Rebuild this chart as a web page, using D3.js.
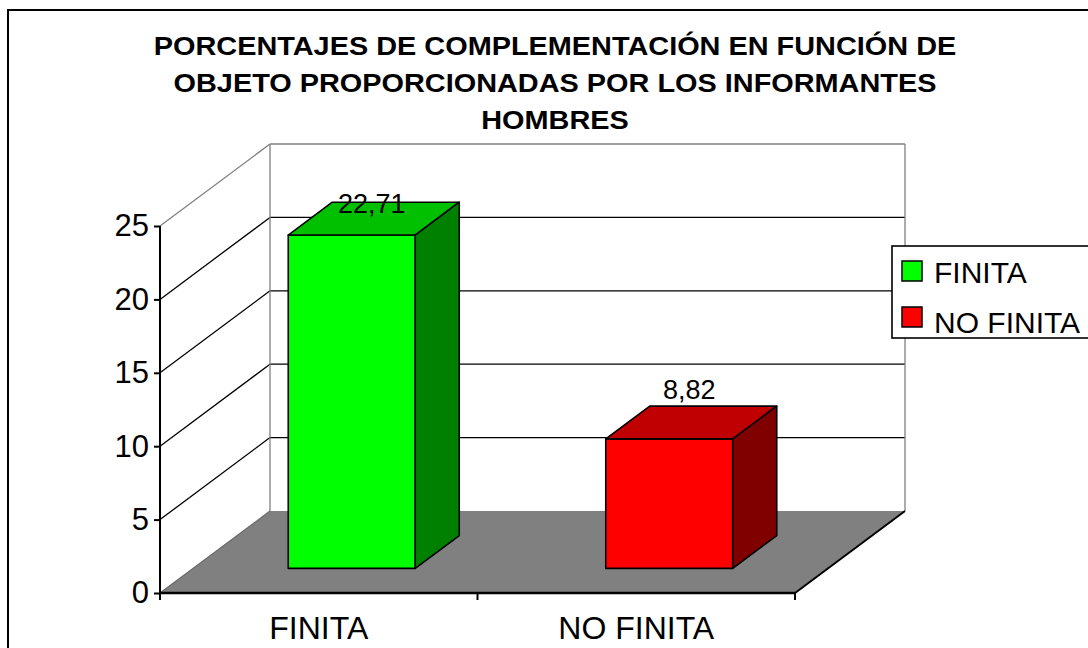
<!DOCTYPE html>
<html>
<head>
<meta charset="utf-8">
<script src="https://cdn.jsdelivr.net/npm/d3@7"></script>
<style>
  html, body { margin: 0; padding: 0; background: #fff; }
  svg { display: block; font-family: "Liberation Sans", Arial, sans-serif; }
</style>
</head>
<body>
<svg id="chart" width="1088" height="648"></svg>
<script>
// Chart data
const categories = ["FINITA", "NO FINITA"];
const values = [22.71, 8.82];
const valueLabels = ["22,71", "8,82"];
const yTicks = [0, 5, 10, 15, 20, 25];
const titleLines = [
  "PORCENTAJES DE COMPLEMENTACIÓN EN FUNCIÓN DE",
  "OBJETO PROPORCIONADAS POR LOS INFORMANTES",
  "HOMBRES"
];
const frontColors = ["#00ff00", "#ff0000"];
const topColors = ["#00c000", "#c00000"];
const sideColors = ["#008000", "#800000"];

const svg = d3.select("#chart");

// Outer frame
svg.append("rect")
  .attr("x", 8).attr("y", 10).attr("width", 1200).attr("height", 800)
  .attr("fill", "#fff").attr("stroke", "#000").attr("stroke-width", 2);

// Title (slightly widened bold lettering)
svg.append("g").selectAll("text").data(titleLines).join("text")
  .attr("transform", (d, i) => `translate(555,${55 + i * 37}) scale(1.155,1)`)
  .attr("text-anchor", "middle")
  .attr("font-weight", "bold").attr("font-size", 25)
  .text(d => d);

// Front plane scales
const x0 = 160, x1 = 795;
const x = d3.scaleBand().domain(categories).range([x0, x1])
  .paddingInner(0.6).paddingOuter(0.3);
const y = d3.scaleLinear().domain([0, 25]).range([593, 226]);

// Depth offset for the oblique projection
const DX = 110, DY = -82;
const P = (px, v, z) => [px + DX * z, y(v) + DY * z];
const poly = pts => "M" + pts.map(p => p.join(",")).join("L") + "Z";

const yMax = d3.max(yTicks);

// Side wall gridlines (left) and back wall gridlines
const grid = svg.append("g");
yTicks.filter(t => t > 0).forEach(t => {
  const c = t === yMax ? "#808080" : "#000";
  const a = P(x0, t, 0), b = P(x0, t, 1), e = P(x1, t, 1);
  grid.append("path").attr("d", `M${a}L${b}`).attr("stroke", c).attr("fill", "none").attr("stroke-width", 1.3);
  grid.append("path").attr("d", `M${b}L${e}`).attr("stroke", c).attr("fill", "none").attr("stroke-width", 1.3);
});
// Back wall vertical edges
[x0, x1].forEach(px => {
  const a = P(px, 0, 1), b = P(px, yMax, 1);
  grid.append("path").attr("d", `M${a}L${b}`).attr("stroke", "#808080").attr("stroke-width", 1.3);
});

// Floor
svg.append("path")
  .attr("d", poly([P(x0, 0, 0), P(x1, 0, 0), P(x1, 0, 1), P(x0, 0, 1)]))
  .attr("fill", "#808080");
svg.append("path").attr("d", `M${P(x0, 0, 0)}L${P(x0, 0, 1)}`)
  .attr("stroke", "#6a6a6a").attr("stroke-width", 1.2);
svg.append("path").attr("d", `M${P(x1, 0, 0)}L${P(x1, 0, 1)}`)
  .attr("stroke", "#000").attr("stroke-width", 2);

// Y axis
const yAxis = d3.axisLeft(y).tickValues(yTicks).tickSize(6).tickPadding(5).tickFormat(d3.format("d"));
const ga = svg.append("g").attr("transform", `translate(${x0},0)`).call(yAxis);
ga.select(".domain").attr("stroke", "#000").attr("stroke-width", 2).attr("d", `M0,${y(yMax)}V${y(0)}`);
ga.selectAll(".tick line").attr("stroke", "#000").attr("stroke-width", 2);
ga.selectAll(".tick text").attr("font-size", 31).attr("fill", "#000")
  .attr("font-family", "'Liberation Sans', Arial, sans-serif");

// X axis
const xAxisG = svg.append("g").attr("transform", `translate(0,${y(0)})`);
xAxisG.append("path").attr("d", `M${x0},0H${x1}`).attr("stroke", "#000").attr("stroke-width", 2.5);
[x0, (x0 + x1) / 2, x1].forEach(px => {
  xAxisG.append("path").attr("d", `M${px},0V7`).attr("stroke", "#000").attr("stroke-width", 2);
});
xAxisG.selectAll("text.cat").data(categories).join("text")
  .attr("class", "cat")
  .attr("x", d => x(d) + x.bandwidth() / 2)
  .attr("y", 46)
  .attr("text-anchor", "middle")
  .attr("font-size", 32)
  .text(d => d);

// Bars
const zf = 0.3, zb = 0.7;
const bars = svg.append("g");
categories.forEach((c, i) => {
  const v = values[i];
  const bx = x(c), bw = x.bandwidth();
  const g = bars.append("g").attr("stroke", "#000").attr("stroke-width", 1.6).attr("stroke-linejoin", "round");
  g.append("path").attr("fill", frontColors[i])
    .attr("d", poly([P(bx, 0, zf), P(bx + bw, 0, zf), P(bx + bw, v, zf), P(bx, v, zf)]));
  g.append("path").attr("fill", topColors[i])
    .attr("d", poly([P(bx, v, zf), P(bx + bw, v, zf), P(bx + bw, v, zb), P(bx, v, zb)]));
  g.append("path").attr("fill", sideColors[i])
    .attr("d", poly([P(bx + bw, 0, zf), P(bx + bw, v, zf), P(bx + bw, v, zb), P(bx + bw, 0, zb)]));

  const top = P(bx + bw / 2, v, 0.5);
  const backTop = P(bx, v, zb)[1];
  svg.append("text")
    .attr("x", top[0] - 2)
    .attr("y", Math.max(backTop - 7, 213))
    .attr("text-anchor", "middle")
    .attr("font-size", 27)
    .text(valueLabels[i]);
});

// Legend
const lg = svg.append("g").attr("transform", "translate(892,246)");
lg.append("rect").attr("x", 0).attr("y", 0).attr("width", 300).attr("height", 92)
  .attr("fill", "#fff").attr("stroke", "#000").attr("stroke-width", 1.6);
categories.forEach((c, i) => {
  lg.append("rect").attr("x", 10).attr("y", 15 + i * 46).attr("width", 20).attr("height", 20)
    .attr("fill", frontColors[i]).attr("stroke", "#000").attr("stroke-width", 1.5);
  lg.append("text").attr("x", 42).attr("y", 37 + i * 50).attr("font-size", 30).text(c);
});
</script>
</body>
</html>
